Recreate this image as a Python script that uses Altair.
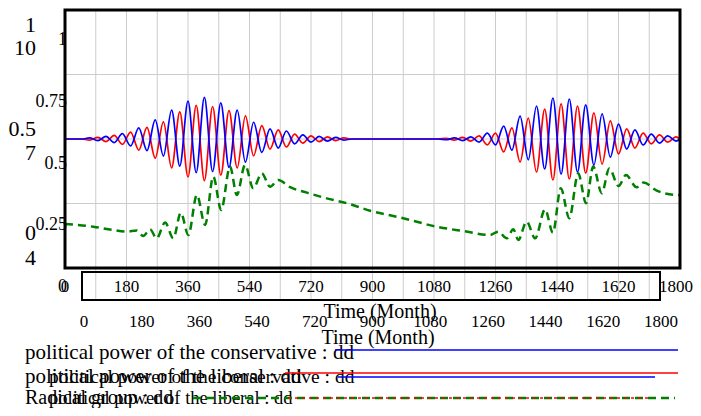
import altair as alt
import pandas as pd

W, H = 615, 258
SERIF = "Liberation Serif"

# ---------------- data ----------------
x_ticks = [0, 180, 360, 540, 720, 900, 1080, 1260, 1440, 1620, 1800]
x_tick_text = ["0", "180", "360", "540", "720", "900", "1080", "1260", "1440", "1620", "1800"]
grid_months = [90, 180, 270, 360, 450, 540, 630, 720, 810, 900, 990, 1080,
               1170, 1260, 1350, 1440, 1530, 1620, 1710]
y_grid = [0.25, 0.5, 0.75]

inner_y_vals = [0, 0.25, 0.5, 0.75, 1]
inner_y_text = ["0", "0.25", "0.5", "0.75", "1"]
outer_a_vals = [0, 0.5, 1]
outer_a_text = ["0", "0.5", "1"]
outer_b_vals = [4, 7, 10]
outer_b_text = ["4", "7", "10"]

# flat parts of the two political-power curves
flat_time = [0, 48, 840, 1092, 1800]
flat_val = [0.5, 0.5, 0.5, 0.5, 0.5]

# first oscillation burst: extremum times and swing around 0.5 (conservative up first)
osc1_time = [72, 96, 120, 144, 168, 192, 216, 240, 264, 288, 312, 336, 360, 384, 408, 432,
             456, 480, 504, 528, 552, 576, 600, 624, 648, 672, 696, 720, 744, 768, 792, 816]
osc1_amp = [0.004, 0.006, 0.010, 0.014, 0.021, 0.027, 0.043, 0.045, 0.074, 0.066, 0.112,
            0.105, 0.147, 0.130, 0.161, 0.126, 0.140, 0.110, 0.112, 0.090, 0.065, 0.052,
            0.039, 0.035, 0.031, 0.019, 0.016, 0.012, 0.010, 0.008, 0.006, 0.004]
# second burst (liberal up first)
osc2_time = [1116, 1140, 1164, 1188, 1212, 1236, 1260, 1284, 1308, 1332, 1356, 1380, 1404,
             1428, 1452, 1476, 1500, 1524, 1548, 1572, 1596, 1620, 1644, 1668, 1692, 1716,
             1740, 1764, 1788]
osc2_amp = [0.003, 0.004, 0.006, 0.008, 0.012, 0.023, 0.023, 0.050, 0.043, 0.089, 0.081,
            0.128, 0.116, 0.159, 0.136, 0.155, 0.128, 0.132, 0.101, 0.097, 0.070, 0.058,
            0.039, 0.035, 0.023, 0.019, 0.016, 0.012, 0.008]

green_time = [0, 83, 141, 181, 210, 229, 249, 268, 293, 317, 339, 361, 386, 410, 434, 457,
              483, 503, 527, 551, 576, 600, 624, 659, 708, 766, 825, 893, 990, 1088, 1166,
              1244, 1268, 1293, 1312, 1327, 1351, 1376, 1405, 1428, 1451, 1476, 1502, 1525,
              1546, 1571, 1593, 1620, 1642, 1673, 1693, 1732, 1790, 1800]
green_val = [0.171, 0.160, 0.147, 0.141, 0.145, 0.124, 0.150, 0.115, 0.176, 0.115, 0.214,
             0.128, 0.283, 0.167, 0.354, 0.225, 0.393, 0.283, 0.399, 0.309, 0.367, 0.315,
             0.341, 0.313, 0.292, 0.270, 0.251, 0.222, 0.193, 0.160, 0.143, 0.128, 0.141,
             0.115, 0.150, 0.109, 0.180, 0.115, 0.227, 0.137, 0.309, 0.193, 0.367, 0.251,
             0.393, 0.290, 0.386, 0.318, 0.360, 0.313, 0.331, 0.300, 0.283, 0.283]

# ---------------- build tables ----------------
blue_rows, red_rows = [], []
for t, v in zip(flat_time, flat_val):
    blue_rows.append((t, v)); red_rows.append((t, v))
for i, (t, a) in enumerate(zip(osc1_time, osc1_amp)):
    s = 1 if i % 2 == 0 else -1
    blue_rows.append((t, 0.5 + s * a)); red_rows.append((t, 0.5 - s * a))
for i, (t, a) in enumerate(zip(osc2_time, osc2_amp)):
    s = -1 if i % 2 == 0 else 1
    blue_rows.append((t, 0.5 + s * a)); red_rows.append((t, 0.5 - s * a))
blue_df = pd.DataFrame(sorted(blue_rows), columns=["t", "v"])
red_df = pd.DataFrame(sorted(red_rows), columns=["t", "v"])
green_df = pd.DataFrame({"t": green_time, "v": green_val})

XS = alt.Scale(domain=[0, 1800], nice=False, zero=False)
YS = alt.Scale(domain=[0, 1], nice=False, zero=False)
one = pd.DataFrame({"a": [0]})


def series(df, color, width, dash=None):
    kw = dict(color=color, strokeWidth=width, interpolate="monotone")
    if dash:
        kw["strokeDash"] = dash
    return alt.Chart(df).mark_line(**kw).encode(
        x=alt.X("t:Q", scale=XS, axis=None), y=alt.Y("v:Q", scale=YS, axis=None))


def free_text(s, x, y, size, align="left"):
    return alt.Chart(pd.DataFrame({"s": [s]})).mark_text(
        font=SERIF, fontSize=size, align=align, baseline="middle", color="black"
    ).encode(x=alt.value(x), y=alt.value(y), text="s:N")


def seg(x1, x2, y, color, width=1.5, dash=None):
    kw = dict(color=color, strokeWidth=width)
    if dash:
        kw["strokeDash"] = dash
    return alt.Chart(one).mark_rule(**kw).encode(
        x=alt.value(x1), x2=alt.value(x2), y=alt.value(y))


grid_v = alt.Chart(pd.DataFrame({"t": grid_months})).mark_rule(
    color="#cccccc", strokeWidth=1).encode(
    x=alt.X("t:Q", scale=XS, axis=None), y=alt.value(0), y2=alt.value(290))
grid_h = alt.Chart(pd.DataFrame({"v": y_grid})).mark_rule(
    color="#cccccc", strokeWidth=1).encode(
    y=alt.Y("v:Q", scale=YS, axis=None), x=alt.value(0), x2=alt.value(W))

green = series(green_df, "#008000", 2.5, [8, 5])
red = series(red_df, "#ff0000", 1.7)
blue = series(blue_df, "#0000ff", 1.7)

inner_y = alt.Chart(pd.DataFrame({"v": inner_y_vals, "s": inner_y_text})).mark_text(
    font=SERIF, fontSize=18, align="right", baseline="middle", color="black").encode(
    y=alt.Y("v:Q", scale=alt.Scale(domain=[0, 1], range=[277, 30], nice=False), axis=None),
    x=alt.value(2), text="s:N")
outer_a = alt.Chart(pd.DataFrame({"v": outer_a_vals, "s": outer_a_text})).mark_text(
    font=SERIF, fontSize=22, align="right", baseline="middle", color="black").encode(
    y=alt.Y("v:Q", scale=alt.Scale(domain=[0, 1], range=[223, 15], nice=False), axis=None),
    x=alt.value(-29), text="s:N")
outer_b = alt.Chart(pd.DataFrame({"v": outer_b_vals, "s": outer_b_text})).mark_text(
    font=SERIF, fontSize=22, align="right", baseline="middle", color="black").encode(
    y=alt.Y("v:Q", scale=alt.Scale(domain=[4, 10], range=[248, 38], nice=False, zero=False),
            axis=None),
    x=alt.value(-29), text="s:N")

frame = alt.Chart(one).mark_rect(filled=False, stroke="black", strokeWidth=3).encode(
    x=alt.value(0), x2=alt.value(W), y=alt.value(0), y2=alt.value(H))
box = alt.Chart(one).mark_rect(filled=False, stroke="black", strokeWidth=2).encode(
    x=alt.value(17), x2=alt.value(595), y=alt.value(262), y2=alt.value(290))

ticks_df = pd.DataFrame({"t": x_ticks, "s": x_tick_text})
xlab1 = alt.Chart(ticks_df.iloc[:-1]).mark_text(
    font=SERIF, fontSize=17, align="center", baseline="middle", color="black").encode(
    x=alt.X("t:Q", scale=XS, axis=None), y=alt.value(277), text="s:N")
xlab1_end = alt.Chart(ticks_df.iloc[-1:]).mark_text(
    font=SERIF, fontSize=17, align="center", baseline="middle", color="black", dx=-4).encode(
    x=alt.X("t:Q", scale=XS, axis=None), y=alt.value(277), text="s:N")
xlab2 = alt.Chart(ticks_df).mark_text(
    font=SERIF, fontSize=17, align="center", baseline="middle", color="black").encode(
    x=alt.X("t:Q", scale=alt.Scale(domain=[0, 1800], range=[19, 596], nice=False), axis=None),
    y=alt.value(312), text="s:N")

title1 = free_text("Time (Month)", 315, 302, 20, "center")
title2 = free_text("Time (Month)", 313, 328, 20, "center")

cons = "political power of the conservative : dd"
lib = "political power of the liberal : dd"
rad = "Radical group : dd"
legend = [
    free_text(cons, -40, 343, 21),
    free_text(lib, -40, 367, 21),
    free_text(cons, -16, 367, 19.5),
    free_text(rad, -40, 388, 20),
    free_text(lib, -16, 388, 18.5),
    seg(270, 613, 340, "#0000ff"),
    seg(220, 613, 363, "#ff0000"),
    seg(273, 590, 367, "#0000ff"),
    seg(128, 610, 388, "#008000", 2.5, [8, 5]),
    seg(223, 587, 388, "#ff0000", 1.5, [3, 4]),
]

chart = alt.layer(
    grid_v, grid_h, green, red, blue, inner_y, outer_a, outer_b, frame, box,
    xlab1, xlab1_end, xlab2, title1, title2, *legend
).resolve_scale(x="independent", y="independent").properties(
    width=W, height=H,
    autosize=alt.AutoSizeParams(type="none"),
    padding={"left": 57, "top": 2, "right": 13, "bottom": 140},
).configure_view(stroke=None)

chart.save("out.html", embed_options={"renderer": "svg", "actions": False})
